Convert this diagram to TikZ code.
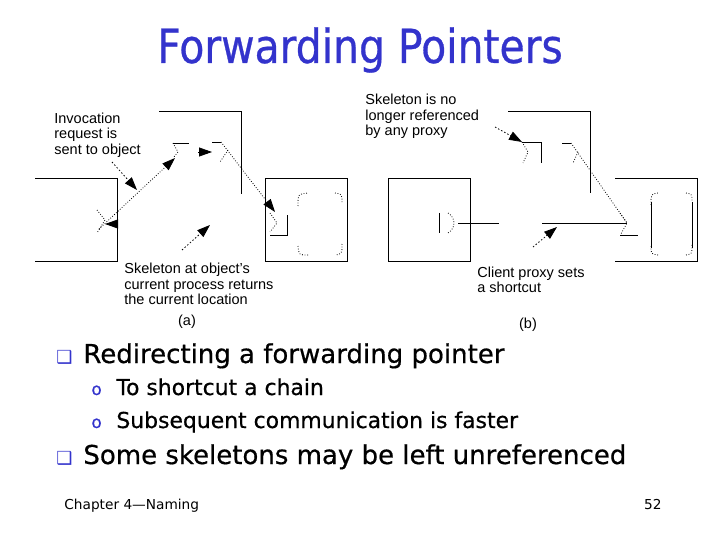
\documentclass[tikz,border=0pt]{standalone}
\usepackage{fontspec}
\setmainfont{Liberation Sans}
\newfontfamily\titlefont[FakeStretch=0.87,FakeBold=0.6]{DejaVu Sans}
\newfontfamily\slidefont[FakeBold=0.6]{DejaVu Sans}
\newfontfamily\footfont{DejaVu Sans}
\usetikzlibrary{arrows.meta}
\definecolor{slideblue}{RGB}{51,51,204}
\tikzset{
  lbl/.style={font=\fontsize{14.5}{15.5}\selectfont,align=left,inner sep=0pt,anchor=north west},
  head/.style={-{Triangle[length=13pt,width=9pt]}},
  ptr/.style={dash pattern=on 0.8pt off 1.8pt,head},
  hint/.style={dash pattern=on 1.5pt off 2pt,head},
  zig/.style={dash pattern=on 0.8pt off 1.8pt},
  itemtext/.style={font=\slidefont\fontsize{26}{30}\selectfont,inner sep=0pt,anchor=base west},
  subtext/.style={font=\slidefont\fontsize{21.9}{26}\selectfont,inner sep=0pt,anchor=base west},
}
\begin{document}
\begin{tikzpicture}[x=1pt,y=-1pt,line width=0.8pt]
\useasboundingbox (0,0) rectangle (720,540);
\node[font=\titlefont\fontsize{47}{50}\selectfont,text=slideblue] (title) at (360,50) {Forwarding Pointers};

% (a) -- chain of forwarding pointers
\draw (35,178) -- (117,178) -- (117,261) -- (35,261);
\draw (159,111) -- (241,111) -- (241,194);
\draw (265,178) rectangle (347,261);
\draw (173,143) -- (189,143);
\draw[zig] (173,143) -- (178,152) -- (173,158);
\draw (212,142) -- (221,142);
\draw[zig] (228,150) -- (220,162);
\draw[zig] (97,210) -- (105,220) -- (97,233);
\draw (270,235) -- (287,235) -- (287,215);
\draw[zig] (270,213) -- (277,223) -- (270,232);
\foreach \a/\b/\c in {298/206/{(298,194) .. (308,193)},335/193/{(342,194) .. (342,203)},
  342/244/{(342,254) .. (335,255)},308/255/{(299,255) .. (298,246)}}
  \draw[zig] (\a,\b) .. controls \c;
\coordinate (pa) at (99,229);
\coordinate (pb) at (175,158);
\coordinate (pc) at (198,152);
\coordinate (pd) at (212,152);
\coordinate (pe) at (221,142);
\coordinate (pf) at (275,212);
\coordinate (pg) at (117,224);
\coordinate (ph) at (105,224);
\draw[ptr] (pa) -- (pb);
\draw[head] (pc) -- (pd);
\draw[ptr] (pe) -- (pf);
\draw[head] (pg) -- (ph);
\node[lbl] (invoke) at (54,112.5) {Invocation\\request is\\sent to object};
\node[lbl] (returns) at (124,263) {Skeleton at object's\\current process returns\\the current location};
\coordinate (ia) at (112,162);
\coordinate (ib) at (137,190);
\coordinate (ra) at (182,250);
\coordinate (rb) at (210,225);
\draw[hint] (ia) -- (ib);
\draw[hint] (ra) -- (rb);
\node[font=\fontsize{14.5}{15.5}\selectfont,anchor=base] (capa) at (187,325) {(a)};

% (b) -- after the shortcut
\draw (388,178) rectangle (470,261);
\draw (439,213) -- (439,233);
\draw[zig] (448,213) .. controls (456,218) and (456,228) .. (448,233);
\draw (458,223) -- (499,223);
\draw (542,223) -- (627,223);
\draw[zig] (620,213) -- (627,223) -- (621,234);
\draw (620,235) -- (638,235);
\draw (615,178) -- (697,178) -- (697,261) -- (615,261);
\draw (651,202) -- (651,248);
\draw (692,202) -- (692,248);
\foreach \a/\b/\c in {651/205/{(651,194) .. (658,193)},686/193/{(692,194) .. (692,202)},
  692/245/{(692,254) .. (686,255)},658/255/{(651,254) .. (651,246)}}
  \draw[zig] (\a,\b) .. controls \c;
\draw (508,111) -- (590,111) -- (590,193);
\draw (522,142) -- (541,142) -- (541,163);
\draw[zig] (522,142) -- (528,152) -- (523,163);
\draw (562,143) -- (571,143);
\draw[zig] (578,152) -- (573,163);
\coordinate (qa) at (571,143);
\coordinate (qb) at (627,223);
\draw[zig] (qa) -- (qb);
\node[lbl] (unref) at (365,94) {Skeleton is no\\longer referenced\\by any proxy};
\node[lbl] (shortcut) at (477,266.5) {Client proxy sets\\a shortcut};
\coordinate (ua) at (495,127);
\coordinate (ub) at (522,142);
\coordinate (sa) at (533,247);
\coordinate (sb) at (557,227);
\draw[hint] (ua) -- (ub);
\draw[hint] (sa) -- (sb);
\node[font=\fontsize{14.5}{15.5}\selectfont,anchor=base] (capb) at (528,328) {(b)};

% bullets
\foreach \y in {363,464}
  \node[font=\footfont\fontsize{18}{18}\selectfont,text=slideblue,inner sep=0pt,anchor=base west] at (56,\y) {❑};
\foreach \y in {395,428}
  \node[font=\slidefont\fontsize{17}{17}\selectfont,text=slideblue,inner sep=0pt,anchor=base west] at (91,\y) {o};
\node[itemtext] (redirect) at (83,363) {Redirecting a forwarding pointer};
\node[subtext] (chain) at (116,395) {To shortcut a chain};
\node[subtext] (faster) at (116,428) {Subsequent communication is faster};
\node[itemtext] (left) at (83,464) {Some skeletons may be left unreferenced};
\node[font=\footfont\fontsize{13.7}{15}\selectfont,inner sep=0pt,anchor=base west] (chapter) at (64,509) {Chapter 4—Naming};
\node[font=\footfont\fontsize{13.7}{15}\selectfont,inner sep=0pt,anchor=base east] (page) at (662,509) {52};
\end{tikzpicture}
\end{document}
